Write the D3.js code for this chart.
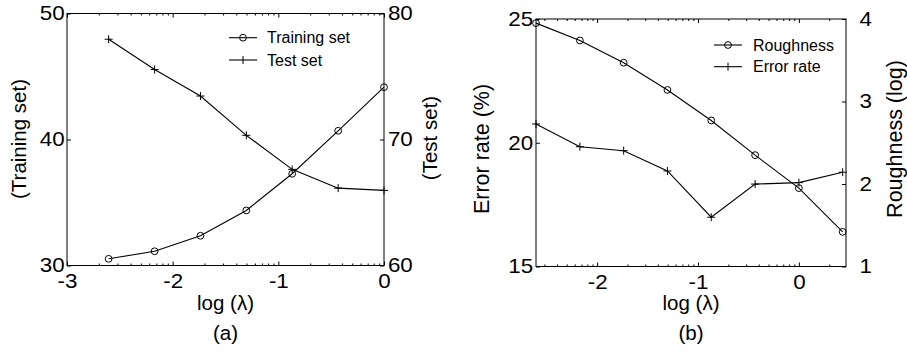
<!DOCTYPE html>
<html>
<head>
<meta charset="utf-8">
<script src="https://cdn.jsdelivr.net/npm/d3@7"></script>
<style>
    body { margin: 0; background: #fff; }
    svg { display: block; }
</style>
</head>
<body>
<div id="chart"></div>
<script>
// log10(lambda) positions of the points
var lambdaA = [-2.606, -2.171, -1.737, -1.303, -0.869, -0.434, 0];
var trainingSet = [30.53, 31.13, 32.36, 34.37, 37.28, 40.69, 44.15];
var testSet = [77.96, 75.55, 73.45, 70.33, 67.63, 66.14, 65.96];

var lambdaB = [-2.606, -2.171, -1.737, -1.303, -0.869, -0.434, 0, 0.434];
var roughness = [3.95, 3.74, 3.47, 3.14, 2.77, 2.35, 1.95, 1.42];
var errorRate = [20.76, 19.84, 19.68, 18.86, 16.99, 18.33, 18.39, 18.81];

var xTicksA = [-3, -2, -1, 0];
var xTicksB = [-2, -1, 0];
var trainTicks = [30, 40, 50];
var testTicks = [60, 70, 80];
var errorTicks = [15, 20, 25];
var roughTicks = [1, 2, 3, 4];

var FONT = "'Liberation Sans', Arial, Helvetica, sans-serif";

var svg = d3
    .select("#chart")
    .append("svg")
    .attr("width", 907)
    .attr("height", 353);

function drawPanel(o) {
    var g = svg.append("g");

    var x = d3.scaleLinear().domain(o.xDomain).range([o.left, o.right]);
    var yL = d3.scaleLinear().domain(o.yLDomain).range([o.bottom, o.top]);
    var yR = d3.scaleLinear().domain(o.yRDomain).range([o.bottom, o.top]);

    // minor ticks at 2..9 inside each decade of lambda
    var minor = d3
        .scaleLog()
        .domain(o.xDomain.map((v) => Math.pow(10, v)))
        .ticks()
        .map(Math.log10)
        .filter((v) => Math.abs(v - Math.round(v)) > 1e-6);

    var noDomain = (s) => s.select(".domain").remove();
    // the original lettering is a bit wide, stretch tick labels sideways
    var styleAxis = (s) =>
        s.attr("font-size", 20)
            .attr("font-family", FONT)
            .selectAll("text")
            .attr("fill", "#000")
            .attr("transform", "scale(1.12,1)");

    g.append("g")
        .attr("transform", "translate(0," + o.bottom + ")")
        .call(d3.axisBottom(x).tickValues(minor).tickSize(-2).tickFormat(""))
        .call(noDomain);
    g.append("g")
        .attr("transform", "translate(0," + o.top + ")")
        .call(d3.axisTop(x).tickValues(minor).tickSize(-2).tickFormat(""))
        .call(noDomain);
    g.append("g")
        .attr("transform", "translate(0," + o.bottom + ")")
        .call(d3.axisBottom(x).tickValues(o.xTicks).tickSize(-4).tickPadding(8).tickFormat((d) => String(d)))
        .call(noDomain)
        .call(styleAxis);
    g.append("g")
        .attr("transform", "translate(0," + o.top + ")")
        .call(d3.axisTop(x).tickValues(o.xTicks).tickSize(-4).tickFormat(""))
        .call(noDomain);
    g.append("g")
        .attr("transform", "translate(" + o.left + ",0)")
        .call(d3.axisLeft(yL).tickValues(o.yLTicks).tickSize(-4).tickPadding(o.padL).tickFormat((d) => String(d)))
        .call(noDomain)
        .call(styleAxis);
    g.append("g")
        .attr("transform", "translate(" + o.right + ",0)")
        .call(d3.axisRight(yR).tickValues(o.yRTicks).tickSize(-4).tickPadding(o.padR).tickFormat((d) => String(d)))
        .call(noDomain)
        .call(styleAxis);

    g.append("rect")
        .attr("x", o.left)
        .attr("y", o.top)
        .attr("width", o.right - o.left)
        .attr("height", o.bottom - o.top)
        .attr("fill", "none")
        .attr("stroke", "#000")
        .attr("stroke-width", 1);

    var line = (xs, ys, y) =>
        d3
            .line()
            .x((d, i) => x(xs[i]))
            .y((d) => y(d))(ys);

    // circle series
    var yC = o.circleScale === "R" ? yR : yL;
    g.append("path")
        .attr("d", line(o.xs, o.circleVals, yC))
        .attr("fill", "none")
        .attr("stroke", "#000")
        .attr("stroke-width", 1.1);
    g.selectAll(".circ")
        .data(o.circleVals)
        .enter()
        .append("circle")
        .attr("cx", (d, i) => x(o.xs[i]))
        .attr("cy", (d) => yC(d))
        .attr("r", 3.4)
        .attr("fill", "none")
        .attr("stroke", "#000")
        .attr("stroke-width", 1);

    // plus series
    var yP = o.plusScale === "R" ? yR : yL;
    g.append("path")
        .attr("d", line(o.xs, o.plusVals, yP))
        .attr("fill", "none")
        .attr("stroke", "#000")
        .attr("stroke-width", 1.1);
    g.selectAll(".plus")
        .data(o.plusVals)
        .enter()
        .append("path")
        .attr("d", (d, i) => {
            var px = x(o.xs[i]),
                py = yP(d);
            return "M" + (px - 4) + "," + py + "H" + (px + 4) + "M" + px + "," + (py - 4) + "V" + (py + 4);
        })
        .attr("stroke", "#000")
        .attr("stroke-width", 1);

    // legend
    var lg = o.legend;
    [0, 1].forEach((i) => {
        var ly = lg.rows[i];
        g.append("line")
            .attr("x1", lg.x1)
            .attr("x2", lg.x2)
            .attr("y1", ly)
            .attr("y2", ly)
            .attr("stroke", "#000")
            .attr("stroke-width", 1.1);
        var mx = (lg.x1 + lg.x2) / 2;
        if (i === 0) {
            g.append("circle")
                .attr("cx", mx)
                .attr("cy", ly)
                .attr("r", 3.4)
                .attr("fill", "none")
                .attr("stroke", "#000");
        } else {
            g.append("path")
                .attr("d", "M" + mx + "," + (ly - 4) + "V" + (ly + 4))
                .attr("stroke", "#000");
        }
        g.append("text")
            .attr("x", lg.tx)
            .attr("y", ly)
            .attr("dy", "0.35em")
            .attr("font-size", 16)
            .attr("font-family", FONT)
            .text(lg.labels[i]);
    });

    // titles
    var cx = (o.left + o.right) / 2;
    g.append("text")
        .attr("x", cx)
        .attr("y", 310)
        .attr("text-anchor", "middle")
        .attr("font-size", 20.5)
        .attr("font-family", FONT)
        .text("log (\u03bb)");
    g.append("text")
        .attr("x", cx)
        .attr("y", 340)
        .attr("text-anchor", "middle")
        .attr("font-size", 20.5)
        .attr("font-family", FONT)
        .text(o.tag);

    o.yTitles.forEach((t) => {
        g.append("text")
            .attr("transform", "translate(" + t.x + "," + t.y + ") rotate(-90)")
            .attr("text-anchor", "middle")
            .attr("dy", "0.26em")
            .attr("font-size", t.size)
            .attr("font-family", FONT)
            .text(t.text);
    });
}

drawPanel({
    left: 67,
    right: 384,
    top: 13.5,
    bottom: 265.5,
    xDomain: [-3, 0],
    xTicks: xTicksA,
    yLDomain: [30, 50],
    yLTicks: trainTicks,
    yRDomain: [60, 80],
    yRTicks: testTicks,
    padL: 2,
    padR: 3.5,
    xs: lambdaA,
    circleVals: trainingSet,
    circleScale: "L",
    plusVals: testSet,
    plusScale: "R",
    legend: { x1: 229, x2: 257, tx: 267, rows: [37.7, 60], labels: ["Training set", "Test set"] },
    tag: "(a)",
    yTitles: [
        { x: 21, y: 139, size: 20.5, text: "(Training set)" },
        { x: 432, y: 138, size: 20.5, text: "(Test set)" },
    ],
});

drawPanel({
    left: 536,
    right: 846,
    top: 19,
    bottom: 266.5,
    xDomain: [-2.606, 0.467],
    xTicks: xTicksB,
    yLDomain: [15, 25],
    yLTicks: errorTicks,
    yRDomain: [1, 4],
    yRTicks: roughTicks,
    padL: 2.5,
    padR: 12,
    xs: lambdaB,
    circleVals: roughness,
    circleScale: "R",
    plusVals: errorRate,
    plusScale: "L",
    legend: { x1: 714, x2: 742, tx: 753, rows: [45, 66.7], labels: ["Roughness", "Error rate"] },
    tag: "(b)",
    yTitles: [
        { x: 483.5, y: 149, size: 21.5, text: "Error rate (%)" },
        { x: 896, y: 139, size: 21.5, text: "Roughness (log)" },
    ],
});
</script>
</body>
</html>
